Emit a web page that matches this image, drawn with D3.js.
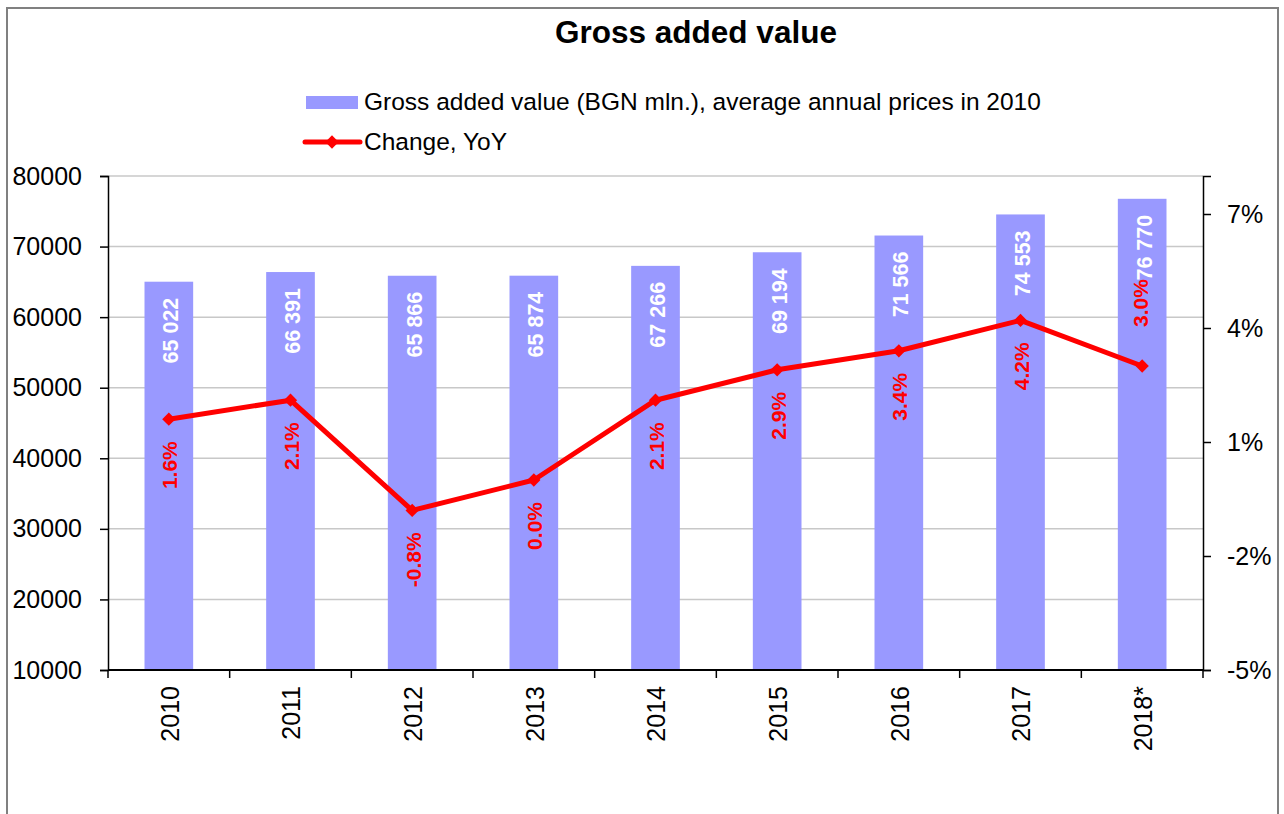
<!DOCTYPE html>
<html>
<head>
<meta charset="utf-8">
<script src="https://cdn.jsdelivr.net/npm/d3@7"></script>
<style>
  html, body { margin: 0; padding: 0; background: #fff; }
  svg { display: block; font-family: "Liberation Sans", Arial, sans-serif; }
</style>
</head>
<body>
<svg id="chart" width="1284" height="814"></svg>
<script>
const categories = ["2010", "2011", "2012", "2013", "2014", "2015", "2016", "2017", "2018*"];
const gvaValues = [65022, 66391, 65866, 65874, 67266, 69194, 71566, 74553, 76770];
const gvaLabels = ["65 022", "66 391", "65 866", "65 874", "67 266", "69 194", "71 566", "74 553", "76 770"];
const changeValues = [1.6, 2.1, -0.8, 0.0, 2.1, 2.9, 3.4, 4.2, 3.0];
const leftTicks = [10000, 20000, 30000, 40000, 50000, 60000, 70000, 80000];
const rightTicks = [-5, -2, 1, 4, 7];
const titleText = "Gross added value";
const legendBarText = "Gross added value (BGN mln.), average annual prices in 2010";
const legendLineText = "Change, YoY";

const svg = d3.select("#chart");
const plot = { left: 108, right: 1203, top: 176, bottom: 670 };
const barColor = "#9999ff", lineColor = "#ff0000";

// outer border
svg.append("rect").attr("x", 7).attr("y", 8).attr("width", 1271).attr("height", 830)
  .attr("fill", "#fff").attr("stroke", "#808080").attr("stroke-width", 2);

const x = d3.scaleBand().domain(categories).range([plot.left, plot.right]).paddingInner(0).paddingOuter(0);
const yL = d3.scaleLinear().domain([10000, 80000]).range([plot.bottom, plot.top]);
const yR = d3.scaleLinear().domain([-5, 8]).range([plot.bottom, plot.top]);

// gridlines
svg.append("g").selectAll("line").data(leftTicks.filter(t => t > 10000)).join("line")
  .attr("x1", plot.left).attr("x2", plot.right)
  .attr("y1", d => yL(d)).attr("y2", d => yL(d))
  .attr("stroke", "#c8c8c8").attr("stroke-width", 1.5);

// bars
const barW = x.bandwidth() * 0.4;
svg.append("g").selectAll("rect").data(gvaValues).join("rect")
  .attr("x", (d, i) => x(categories[i]) + x.bandwidth() / 2 - barW / 2)
  .attr("width", barW)
  .attr("y", d => yL(d))
  .attr("height", d => yL(10000) - yL(d))
  .attr("fill", barColor);

// left axis
const axL = svg.append("g").attr("transform", `translate(${plot.left},0)`)
  .call(d3.axisLeft(yL).tickValues(leftTicks).tickFormat(d3.format("d")).tickSize(8).tickPadding(18));
axL.select(".domain").attr("stroke", "#000").attr("stroke-width", 1.5);
axL.selectAll(".tick line").attr("stroke", "#000").attr("stroke-width", 1.5);
axL.selectAll(".tick text").attr("font-size", 25).attr("fill", "#000")
  .attr("font-family", "'Liberation Sans', Arial, sans-serif");

// right axis
const axR = svg.append("g").attr("transform", `translate(${plot.right},0)`)
  .call(d3.axisRight(yR).tickValues(rightTicks).tickFormat(d => d + "%").tickSize(8).tickPadding(16));
axR.select(".domain").attr("stroke", "#000").attr("stroke-width", 1.5);
axR.selectAll(".tick line").attr("stroke", "#000").attr("stroke-width", 1.5);
axR.selectAll(".tick text").attr("font-size", 25).attr("fill", "#000")
  .attr("font-family", "'Liberation Sans', Arial, sans-serif");

// bottom axis: line + boundary ticks
svg.append("line").attr("x1", plot.left).attr("x2", plot.right)
  .attr("y1", plot.bottom).attr("y2", plot.bottom).attr("stroke", "#000").attr("stroke-width", 2);
const boundaries = categories.map(c => x(c)).concat([x(categories[categories.length - 1]) + x.bandwidth()]);
svg.append("g").selectAll("line").data(boundaries).join("line")
  .attr("x1", d => d).attr("x2", d => d)
  .attr("y1", plot.bottom).attr("y2", plot.bottom + 8)
  .attr("stroke", "#000").attr("stroke-width", 1.5);
svg.append("g").selectAll("text").data(categories).join("text")
  .attr("transform", d => `translate(${x(d) + x.bandwidth() / 2 + 1},${plot.bottom + 16}) rotate(-90)`)
  .attr("text-anchor", "end").attr("dy", "0.35em")
  .attr("font-size", 25).attr("fill", "#000").text(d => d);

// line
const cx = i => x(categories[i]) + x.bandwidth() / 2;
const line = d3.line().x((d, i) => cx(i)).y(d => yR(d));
svg.append("path").datum(changeValues).attr("d", line)
  .attr("fill", "none").attr("stroke", lineColor).attr("stroke-width", 5).attr("stroke-linejoin", "round");
const diamond = d3.symbol().type(d3.symbolSquare).size(88);
svg.append("g").selectAll("path").data(changeValues).join("path")
  .attr("d", diamond)
  .attr("transform", (d, i) => `translate(${cx(i)},${yR(d)}) rotate(45)`)
  .attr("fill", lineColor);

// bar value labels
svg.append("g").selectAll("text").data(gvaValues).join("text")
  .attr("transform", (d, i) => `translate(${cx(i) + 2},${yL(d) + 16}) rotate(-90)`)
  .attr("text-anchor", "end").attr("dy", "0.35em")
  .attr("font-size", 21.5).attr("font-weight", "bold").attr("fill", "#fff")
  .text((d, i) => gvaLabels[i]);

// change labels
const last = changeValues.length - 1;
svg.append("g").selectAll("text").data(changeValues).join("text")
  .attr("transform", (d, i) => i === last
      ? `translate(${cx(i) - 2},${yR(d) - 39}) rotate(-90)`
      : `translate(${cx(i) + 1},${yR(d) + 22}) rotate(-90)`)
  .attr("text-anchor", (d, i) => i === last ? "start" : "end").attr("dy", "0.35em")
  .attr("font-size", 21).attr("font-weight", "bold").attr("fill", lineColor)
  .text(d => d.toFixed(1) + "%");

// title
svg.append("text").attr("x", 696).attr("y", 43).attr("text-anchor", "middle")
  .attr("font-size", 31.5).attr("font-weight", "bold").attr("fill", "#000").text(titleText);

// legend
svg.append("rect").attr("x", 306).attr("y", 96).attr("width", 52).attr("height", 13).attr("fill", barColor);
svg.append("text").attr("x", 364).attr("y", 110).attr("font-size", 24.5).attr("fill", "#000").text(legendBarText);
svg.append("line").attr("x1", 305).attr("x2", 360).attr("y1", 142).attr("y2", 142)
  .attr("stroke", lineColor).attr("stroke-width", 5).attr("stroke-linecap", "round");
svg.append("path").attr("d", diamond).attr("transform", "translate(332,142) rotate(45)").attr("fill", lineColor);
svg.append("text").attr("x", 364).attr("y", 150).attr("font-size", 24.5).attr("fill", "#000").text(legendLineText);
</script>
</body>
</html>
